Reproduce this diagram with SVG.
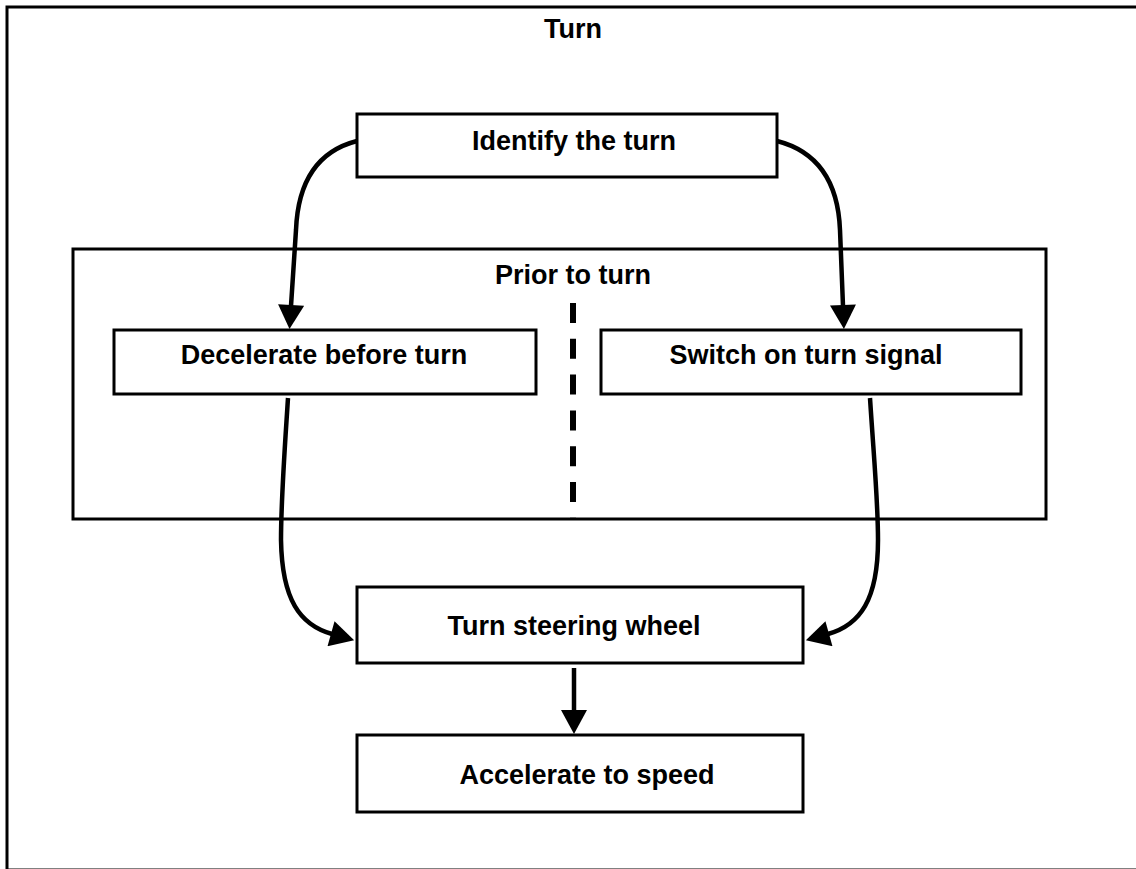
<svg xmlns="http://www.w3.org/2000/svg" width="1136" height="869" viewBox="0 0 1136 869">
<style>
.box{fill:#fff;stroke:#000;stroke-width:3}
.frame{fill:none;stroke:#000;stroke-width:3}
.lbl{font-family:"Liberation Sans",Arial,sans-serif;font-weight:bold;font-size:27px;fill:#000;text-anchor:middle}
.conn{fill:none;stroke:#000;stroke-width:4.5}
</style>
<defs>
<marker id="ah" markerUnits="userSpaceOnUse" markerWidth="26" markerHeight="26" viewBox="0 0 24 26" refX="1" refY="13" orient="auto">
<path d="M0,0 L24,13 L0,26 Z" fill="#000"/>
</marker>
</defs>
<rect width="1136" height="869" fill="#fff"/>
<g id="turn-frame">
<rect class="frame" x="7" y="7" width="1140" height="863"/>
<text class="lbl" x="573" y="38">Turn</text>
</g>
<g id="prior-frame">
<rect class="box" x="73" y="249" width="973" height="270"/>
<text class="lbl" x="573" y="284">Prior to turn</text>
<line x1="573" y1="303" x2="573" y2="519" stroke="#000" stroke-width="6" stroke-dasharray="20 15.8"/>
</g>
<g id="identify">
<rect class="box" x="357" y="114" width="420" height="63"/>
<text class="lbl" x="574" y="150">Identify the turn</text>
</g>
<g id="decelerate">
<rect class="box" x="114" y="330" width="422" height="64"/>
<text class="lbl" x="324" y="364">Decelerate before turn</text>
</g>
<g id="signal">
<rect class="box" x="601" y="330" width="420" height="64"/>
<text class="lbl" x="806" y="364">Switch on turn signal</text>
</g>
<g id="steering">
<rect class="box" x="357" y="587" width="446" height="76"/>
<text class="lbl" x="574" y="635">Turn steering wheel</text>
</g>
<g id="accelerate">
<rect class="box" x="357" y="735" width="446" height="77"/>
<text class="lbl" x="587" y="784">Accelerate to speed</text>
</g>
<g id="connectors">
<path class="conn" d="M357,141 C318,151 298,180 296,230 L291,306" marker-end="url(#ah)"/>
<path class="conn" d="M777,141 C816,151 838,180 840,230 L843,306" marker-end="url(#ah)"/>
<path class="conn" d="M288,398 C284,460 281,500 281,540 C282,600 300,625 332,634" marker-end="url(#ah)"/>
<path class="conn" d="M870,398 C874,460 878,500 878,540 C878,600 860,625 828,634" marker-end="url(#ah)"/>
<path class="conn" d="M574,668 L574,711" marker-end="url(#ah)"/>
</g>
</svg>
